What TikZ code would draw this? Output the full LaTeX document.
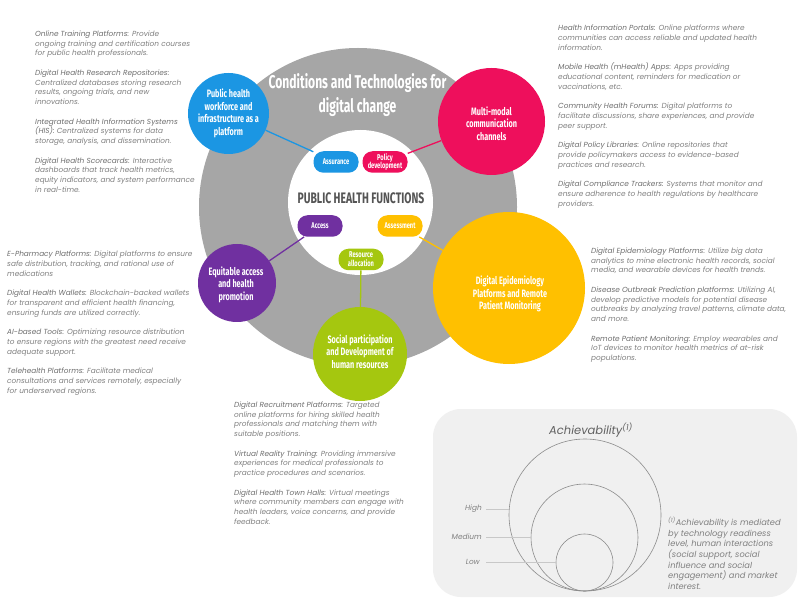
\documentclass[tikz,border=0pt]{standalone}
\usepackage{fontspec}
\setmainfont{Lato}
\newfontfamily\descfont{Poppins}
\newfontfamily\condfont[FakeStretch=0.68]{Fira Sans}
\newfontfamily\titlefont[FakeStretch=0.655]{Fira Sans}
\definecolor{ringgray}{HTML}{A6A6A6}
\definecolor{bluec}{HTML}{1B96E3}
\definecolor{pinkc}{HTML}{EE0F5C}
\definecolor{yellowc}{HTML}{FFC000}
\definecolor{purplec}{HTML}{7030A0}
\definecolor{greenc}{HTML}{A5C70F}
\definecolor{txtgray}{HTML}{808080}
\definecolor{namegray}{HTML}{6E6E6E}
\definecolor{boxgray}{HTML}{F0F0F0}
\definecolor{circgray}{HTML}{8C8C8C}
\definecolor{tickgray}{HTML}{C8C8C8}
\newcommand{\dname}[1]{\textcolor{namegray}{#1}}
\tikzset{
  desc/.style={anchor=north west, inner sep=0pt, align=left, text=txtgray,
    font=\descfont\itshape\fontsize{7.35}{9.75}\selectfont},
  bigcirc/.style={circle, inner sep=0pt, draw=none},
  circlab/.style={align=center, text=white, inner sep=0pt,
    font=\condfont\bfseries\fontsize{10.7}{12.5}\selectfont},
  pill/.style={rounded corners=10pt, minimum width=45pt, minimum height=21.5pt,
    inner sep=0pt, text=white, align=center,
    font=\condfont\bfseries\fontsize{8.4}{8.8}\selectfont},
  conn/.style={line width=1.3pt},
  achc/.style={circle, draw=circgray, line width=0.6pt, inner sep=0pt},
  levlab/.style={anchor=east, inner sep=0pt, text=txtgray,
    font=\descfont\itshape\fontsize{7.4}{9}\selectfont},
  tick/.style={draw=tickgray, line width=0.6pt},
}
\begin{document}
\begin{tikzpicture}[x=1pt,y=-1pt]
\useasboundingbox (0,0) rectangle (800,601);
\fill[white] (0,0) rectangle (800,601);

% big gray ring and inner white circle
\node[bigcirc, fill=ringgray, minimum size=318pt] (ring) at (358,207) {};
\node[bigcirc, fill=white, minimum size=145pt] (phf) at (360.5,202.5) {};
\node[text=black!67, inner sep=0pt, font=\condfont\bfseries\fontsize{15.2}{16}\selectfont] (phftxt) at (361,198) {PUBLIC HEALTH FUNCTIONS};

% pills
\node[pill, fill=bluec] (assur) at (336,162) {Assurance};
\node[pill, fill=pinkc] (policy) at (385,162) {Policy\\development};
\node[pill, fill=purplec] (access) at (320,226) {Access};
\node[pill, fill=yellowc] (assess) at (400,226) {Assessment};
\node[pill, fill=greenc] (resalloc) at (361,259.5) {Resource\\allocation};

% outer coloured circles
\node[bigcirc, fill=bluec, minimum size=81pt] (bluecirc) at (228.5,113.5) {};
\node[bigcirc, fill=pinkc, minimum size=107pt] (pinkcirc) at (491.5,121.5) {};
\node[bigcirc, fill=yellowc, minimum size=152pt] (yellowcirc) at (509,288) {};
\node[bigcirc, fill=purplec, minimum size=78pt] (purplecirc) at (237,283) {};
\node[bigcirc, fill=greenc, minimum size=94pt] (greencirc) at (360,354) {};

% title over the ring
\node[align=center, text=white, inner sep=0pt, font=\titlefont\bfseries\fontsize{18.5}{23.5}\selectfont] (title) at (357.5,95)
  {Conditions and Technologies for\\digital change};

% connectors
\draw[conn, bluec] (bluecirc) -- (assur);
\draw[conn, pinkc] (policy) -- (pinkcirc);
\draw[conn, purplec] (access) -- (purplecirc);
\draw[conn, yellowc] (assess) -- (yellowcirc);
\draw[conn, greenc] (resalloc) -- (greencirc);

% circle labels
\node[circlab] (bluelab) at (228.5,113.5) {Public health\\workforce and\\infrastructure as a\\platform};
\node[circlab] (pinklab) at (491.5,123.5) {Multi-modal\\communication\\channels};
\node[circlab] (yellowlab) at (510,294) {Digital Epidemiology\\Platforms and Remote\\Patient Monitoring};
\node[circlab] (purplelab) at (236,284.5) {Equitable access\\and health\\promotion};
\node[circlab] (greenlab) at (360,351.5) {Social participation\\and Development of\\human resources};

% description blocks
\node[desc] (tl) at (35,30.5) {%
\dname{Online Training Platforms:} Provide\\
ongoing training and certification courses\\
for public health professionals.\\[9.75pt]
\dname{Digital Health Research Repositories:}\\
Centralized databases storing research\\
results, ongoing trials, and new\\
innovations.\\[9.75pt]
\dname{Integrated Health Information Systems}\\
\dname{(HIS):} Centralized systems for data\\
storage, analysis, and dissemination.\\[9.75pt]
\dname{Digital Health Scorecards:} Interactive\\
dashboards that track health metrics,\\
equity indicators, and system performance\\
in real-time.};

\node[desc] (tr) at (558,24.8) {%
\dname{Health Information Portals:} Online platforms where\\
communities can access reliable and updated health\\
information.\\[9.75pt]
\dname{Mobile Health (mHealth) Apps:} Apps providing\\
educational content, reminders for medication or\\
vaccinations, etc.\\[9.75pt]
\dname{Community Health Forums:} Digital platforms to\\
facilitate discussions, share experiences, and provide\\
peer support.\\[9.75pt]
\dname{Digital Policy Libraries:} Online repositories that\\
provide policymakers access to evidence-based\\
practices and research.\\[9.75pt]
\dname{Digital Compliance Trackers:} Systems that monitor and\\
ensure adherence to health regulations by healthcare\\
providers.};

\node[desc] (ml) at (7,250.8) {%
\dname{E-Pharmacy Platforms:} Digital platforms to ensure\\
safe distribution, tracking, and rational use of\\
medications\\[9.75pt]
\dname{Digital Health Wallets:} Blockchain-backed wallets\\
for transparent and efficient health financing,\\
ensuring funds are utilized correctly.\\[9.75pt]
\dname{AI-based Tools:} Optimizing resource distribution\\
to ensure regions with the greatest need receive\\
adequate support.\\[9.75pt]
\dname{Telehealth Platforms:} Facilitate medical\\
consultations and services remotely, especially\\
for underserved regions.};

\node[desc] (mr) at (591,247.5) {%
\dname{Digital Epidemiology Platforms:} Utilize big data\\
analytics to mine electronic health records, social\\
media, and wearable devices for health trends.\\[9.75pt]
\dname{Disease Outbreak Prediction platforms:} Utilizing AI,\\
develop predictive models for potential disease\\
outbreaks by analyzing travel patterns, climate data,\\
and more.\\[9.75pt]
\dname{Remote Patient Monitoring:} Employ wearables and\\
IoT devices to monitor health metrics of at-risk\\
populations.};

\node[desc] (bc) at (234,401.5) {%
\dname{Digital Recruitment Platforms:} Targeted\\
online platforms for hiring skilled health\\
professionals and matching them with\\
suitable positions.\\[9.75pt]
\dname{Virtual Reality Training:} Providing immersive\\
experiences for medical professionals to\\
practice procedures and scenarios.\\[9.75pt]
\dname{Digital Health Town Halls:} Virtual meetings\\
where community members can engage with\\
health leaders, voice concerns, and provide\\
feedback.};

% achievability panel
\node[fill=boxgray, rounded corners=28pt, minimum width=364pt, minimum height=188pt, inner sep=0pt] (achbox) at (615,503) {};
\node[inner sep=0pt, text=black!62, font=\descfont\itshape\fontsize{11.5}{14}\selectfont] (achtitle) at (591,430) {Achievability\textsuperscript{(1)}};
\node[achc, minimum size=152pt] (high) at (585,515) {};
\node[achc, minimum size=107pt] (medium) at (584.5,537.5) {};
\node[achc, minimum size=57pt] (low) at (584.5,562.5) {};
\node[levlab] (highlab) at (482,509) {High};
\node[levlab] (medlab) at (482,537) {Medium};
\node[levlab] (lowlab) at (480,562) {Low};
\draw[tick] ([xshift=4pt]highlab.east) -- (high.west |- highlab.east);
\draw[tick] ([xshift=4pt]medlab.east) -- (medium.west |- medlab.east);
\draw[tick] ([xshift=6pt]lowlab.east) -- (low.west |- lowlab.east);
\node[desc, font=\descfont\itshape\fontsize{8.3}{10.67}\selectfont] (foot) at (668,517) {%
\textsuperscript{(1)}Achievability is mediated\\
by technology readiness\\
level, human interactions\\
(social support, social\\
influence and social\\
engagement) and market\\
interest.};
\end{tikzpicture}
\end{document}
